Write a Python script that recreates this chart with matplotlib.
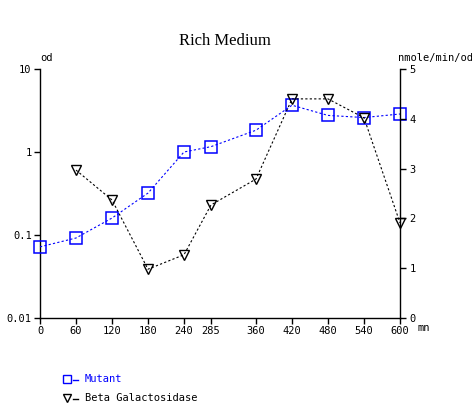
import matplotlib
matplotlib.use("Agg")
import matplotlib.pyplot as plt
from matplotlib.lines import Line2D
from matplotlib.ticker import FixedLocator, NullLocator, FixedFormatter

minutes = [0, 60, 120, 180, 240, 285, 360, 420, 480, 540, 600]
mutant_od = [0.072, 0.092, 0.16, 0.32, 1.0, 1.16, 1.83, 3.66, 2.76, 2.6, 2.87]
beta_minutes = [60, 120, 180, 240, 285, 360, 420, 480, 540, 600]
beta_gal = [2.97, 2.37, 0.98, 1.27, 2.27, 2.79, 4.40, 4.40, 4.02, 1.91]
x_ticks = [0, 60, 120, 180, 240, 285, 360, 420, 480, 540, 600]
left_ticks = [0.01, 0.1, 1, 10]
left_labels = ["0.01", "0.1", "1", "10"]
right_ticks = [0, 1, 2, 3, 4, 5]
legend_labels = ["Mutant", "Beta Galactosidase"]

mono = "DejaVu Sans Mono"
plt.rcParams['font.family'] = mono
BLUE = '#0000ff'

fig = plt.figure(figsize=(4.72, 4.05), dpi=100)
ax = fig.add_axes([40/472, 87/405, 360/472, 249/405])
ax2 = ax.twinx()

ax.set_yscale('log')
ax.set_ylim(0.01, 10)
ax.set_xlim(0, 600)
ax2.set_ylim(0, 5)

ax.plot(minutes, mutant_od, linestyle=(0, (2, 2)), color=BLUE, lw=0.8,
        marker='s', markersize=8, markerfacecolor='none', markeredgecolor=BLUE,
        markeredgewidth=1.1, clip_on=False, zorder=3)
ax2.plot(beta_minutes, beta_gal, linestyle=(0, (2, 2)), color='black', lw=0.8,
         marker='v', markersize=7, markerfacecolor='none', markeredgecolor='black',
         markeredgewidth=1.0, clip_on=False, zorder=3)

for a in (ax, ax2):
    a.spines['top'].set_visible(False)
ax.spines['right'].set_visible(False)
ax2.spines['left'].set_visible(False)
ax2.spines['bottom'].set_visible(False)
for s in ['left', 'bottom']:
    ax.spines[s].set_linewidth(1.0)
ax2.spines['right'].set_linewidth(1.0)

ax.yaxis.set_major_locator(FixedLocator(left_ticks))
ax.yaxis.set_major_formatter(FixedFormatter(left_labels))
ax.yaxis.set_minor_locator(NullLocator())
ax.set_xticks(x_ticks)
ax.set_xticklabels([str(v) for v in x_ticks])
ax2.set_yticks(right_ticks)
ax2.set_yticklabels([str(v) for v in right_ticks])

ax.tick_params(axis='both', direction='out', length=4, width=1, labelsize=7.5, pad=2)
ax2.tick_params(axis='y', direction='out', length=4, width=1, labelsize=7.5, pad=3)

fig.text(225/472, 1 - 41/405, "Rich Medium", ha='center', va='center', fontsize=12,
         family='Liberation Serif')
fig.text(40/472, 1 - 58/405, "od", ha='left', va='center', fontsize=7.5)
fig.text(398/472, 1 - 58/405, "nmole/min/od", ha='left', va='center', fontsize=7.5)
fig.text(418/472, 1 - 328/405, "mn", ha='left', va='center', fontsize=7.5)

# manual legend
W, H = 472, 405
for (lab, col, mk, ms, yy) in [(legend_labels[0], BLUE, 's', 6, 379),
                                (legend_labels[1], 'black', 'v', 6, 398)]:
    fy = 1 - yy / H
    fig.add_artist(Line2D([67/W], [fy], marker=mk, markersize=ms, markerfacecolor='none',
                          markeredgecolor=col, markeredgewidth=1.0, linestyle='none'))
    fig.add_artist(Line2D([73/W, 78/W], [fy - 1/H, fy - 1/H], color=col, lw=1.0))
    fig.text(85/W, fy, lab, color=col, ha='left', va='center', fontsize=7.5)

fig.savefig("out.png", dpi=100)
